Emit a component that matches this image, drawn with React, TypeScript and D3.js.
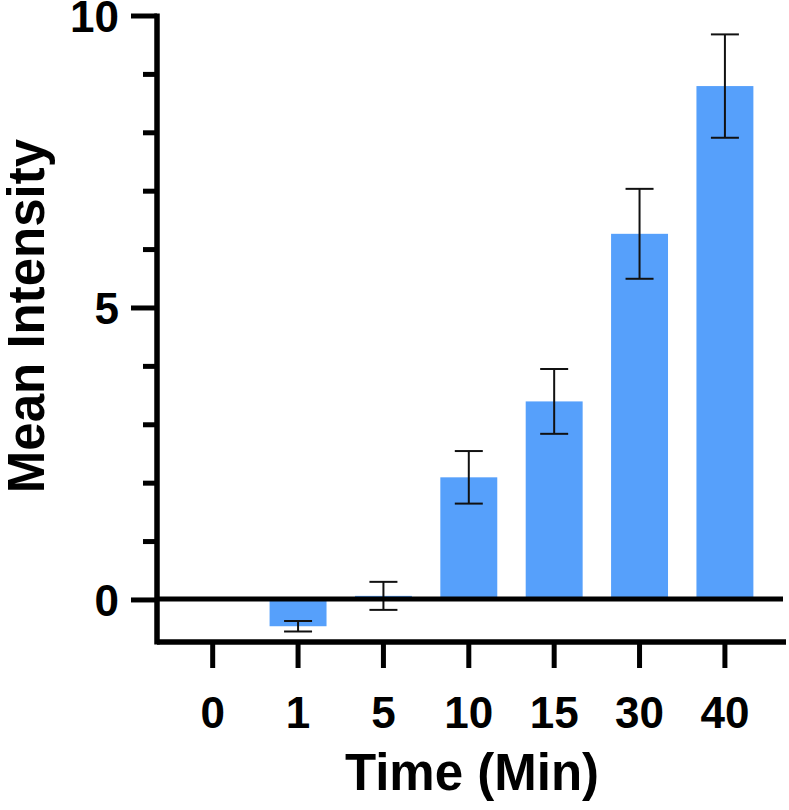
import React from "react";
import * as d3 from "d3";

const categories = ["0", "1", "5", "10", "15", "30", "40"];
const means = [0, -0.45, 0.07, 2.1, 3.4, 6.27, 8.8];
const errors = [0, 0.09, 0.24, 0.45, 0.555, 0.77, 0.885];
const majorTicks = [0, 5, 10];
const minorTicks = [1, 2, 3, 4, 6, 7, 8, 9];

const W = 789;
const H = 810;
const FONT = "'Liberation Sans', Arial, Helvetica, sans-serif";

export default function App() {
  const axisX = 157;
  const axisBottom = 642;
  const axisRight = 786;
  const y = d3.scaleLinear().domain([-0.72, 10]).range([axisBottom, 16]);
  const x = d3.scaleBand<string>().domain(categories).range([170, 767.6]).paddingInner(0).paddingOuter(0);
  const bw = x.bandwidth() * 0.667;
  const capW = 28;
  const barColor = "#56A0FB";

  return (
    <svg width={W} height={H} style={{ position: "absolute", left: 0, top: 0 }}>
      <rect x={0} y={0} width={W} height={H} fill="#fff" />
      {/* bars */}
      {categories.map((c, i) => {
        const v = means[i];
        if (v === 0) return null;
        const cx = (x(c) as number) + x.bandwidth() / 2;
        const y0 = y(0);
        const y1 = y(v);
        return (
          <rect key={"b" + c} x={cx - bw / 2} y={Math.min(y0, y1)} width={bw} height={Math.abs(y1 - y0)} fill={barColor} />
        );
      })}
      {/* error bars */}
      {categories.map((c, i) => {
        const e = errors[i];
        if (!e) return null;
        const cx = (x(c) as number) + x.bandwidth() / 2;
        const yt = y(means[i] + e);
        const yb = y(means[i] - e);
        return (
          <g key={"e" + c} stroke="#111" strokeWidth={2} fill="none">
            <line x1={cx} x2={cx} y1={yt} y2={yb} />
            <line x1={cx - capW / 2} x2={cx + capW / 2} y1={yt} y2={yt} />
            <line x1={cx - capW / 2} x2={cx + capW / 2} y1={yb} y2={yb} />
          </g>
        );
      })}
      {/* zero line */}
      <line x1={axisX} x2={783} y1={y(0) - 1} y2={y(0) - 1} stroke="#000" strokeWidth={5} />
      {/* y axis */}
      <line x1={axisX} x2={axisX} y1={y(10) - 2.5} y2={axisBottom + 2.5} stroke="#000" strokeWidth={5.5} />
      {majorTicks.map((t) => (
        <line key={"M" + t} x1={131} x2={axisX} y1={y(t)} y2={y(t)} stroke="#000" strokeWidth={5} />
      ))}
      {minorTicks.map((t) => (
        <line key={"m" + t} x1={143} x2={axisX} y1={y(t)} y2={y(t)} stroke="#000" strokeWidth={5} />
      ))}
      {majorTicks.map((t) => (
        <text key={"l" + t} x={119} y={y(t)} dy="0.36em" textAnchor="end" fontFamily={FONT} fontWeight="bold" fontSize={44} fill="#000">
          {t}
        </text>
      ))}
      {/* x axis */}
      <line x1={axisX} x2={axisRight} y1={axisBottom} y2={axisBottom} stroke="#000" strokeWidth={5.5} />
      {categories.map((c) => {
        const cx = (x(c) as number) + x.bandwidth() / 2;
        return (
          <g key={"x" + c}>
            <line x1={cx} x2={cx} y1={axisBottom} y2={668} stroke="#000" strokeWidth={5} />
            <text x={cx} y={728} textAnchor="middle" fontFamily={FONT} fontWeight="bold" fontSize={44} fill="#000">
              {c}
            </text>
          </g>
        );
      })}
      {/* titles */}
      <text x={472} y={790} textAnchor="middle" fontFamily={FONT} fontWeight="bold" fontSize={51} fill="#000">
        Time (Min)
      </text>
      <text transform="translate(44,316) rotate(-90)" textAnchor="middle" fontFamily={FONT} fontWeight="bold" fontSize={51} fill="#000">
        Mean Intensity
      </text>
    </svg>
  );
}
